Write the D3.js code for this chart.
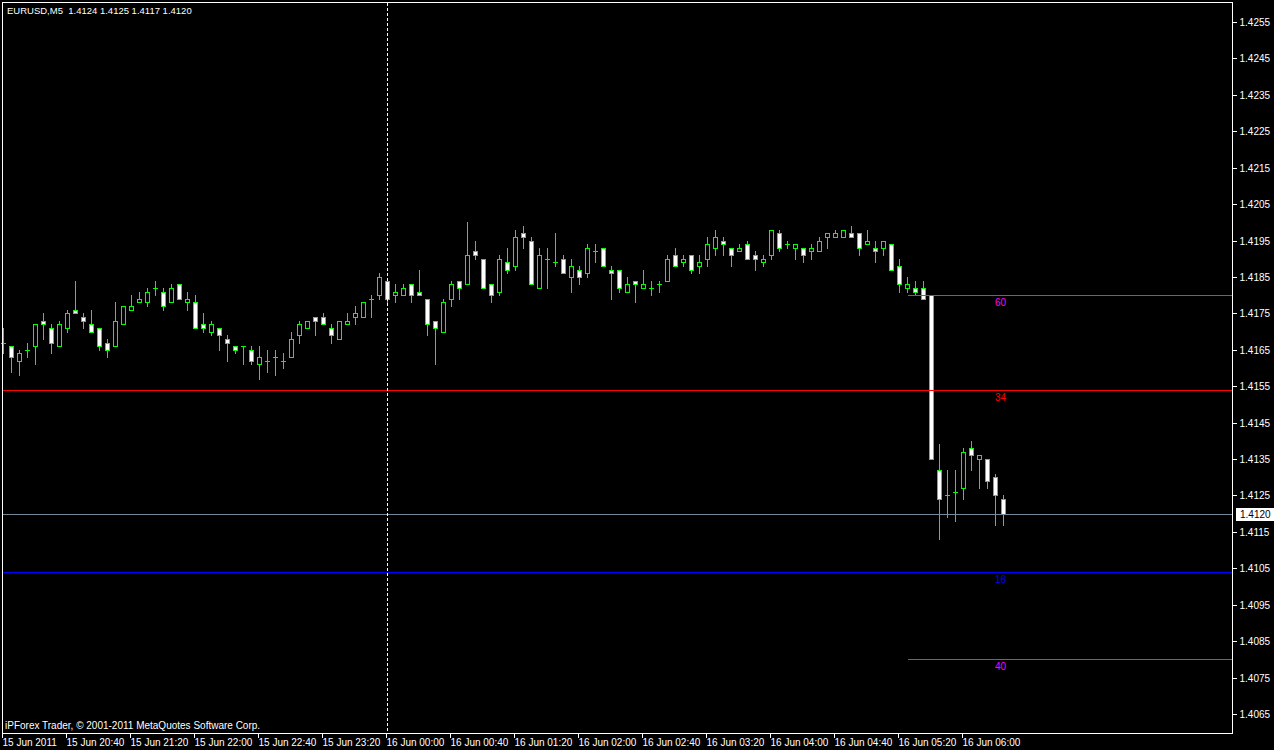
<!DOCTYPE html>
<html><head><meta charset="utf-8">
<script src="https://cdn.jsdelivr.net/npm/d3@7"></script>
<style>html,body{margin:0;padding:0;background:#000;overflow:hidden}</style>
</head><body><svg id="c" width="1274" height="750"></svg>
<script>
const titleText = "EURUSD,M5  1.4124 1.4125 1.4117 1.4120";
const copyrightText = "iPForex Trader, \u00a9 2001-2011 MetaQuotes Software Corp.";

const opens = [1.4167,1.4166,1.4162,1.4165,1.4166,1.4173,1.4171,1.4166,1.4171,1.4176,
1.4174,1.4172,1.4171,1.4167,1.4166,1.4172,1.4176,1.4178,1.4178,1.4182,
1.4181,1.4178,1.4183,1.4178,1.4178,1.4172,1.4170,1.4171,1.4168,1.4166,
1.4166,1.4165,1.4161,1.4162,1.4163,1.4162,1.4163,1.4169,1.4171,1.4174,
1.4174,1.4171,1.4168,1.4172,1.4174,1.4174,1.4179,1.4180,1.4184,1.4180,
1.4180,1.4183,1.4181,1.4179,1.4173,1.4170,1.4179,1.4184,1.4183,1.4192,
1.4190,1.4183,1.4181,1.4189,1.4188,1.4197,1.4195,1.4182,1.4190,1.4189,
1.4190,1.4185,1.4187,1.4186,1.4192,1.4193,1.4187,1.4187,1.4181,1.4184,
1.4182,1.4182,1.4183,1.4184,1.4191,1.4189,1.4191,1.4188,1.4190,1.4193,
1.4195,1.4193,1.4192,1.4194,1.4191,1.4189,1.4191,1.4197,1.4194,1.4193,
1.4193,1.4192,1.4192,1.4196,1.4196,1.4196,1.4197,1.4197,1.4194,1.4193,
1.4193,1.4194,1.4188,1.4182,1.4182,1.4182,1.4180,1.4132,1.4125,1.4126,
1.4127,1.4138,1.4135,1.4135,1.4130,1.4124];
const highs = [1.4171,1.4166,1.4165,1.4167,1.4172,1.4175,1.4172,1.4173,1.4176,1.4184,
1.4175,1.4176,1.4171,1.4168,1.4178,1.4177,1.4180,1.4181,1.4182,1.4184,
1.4182,1.4183,1.4183,1.4181,1.4180,1.4175,1.4173,1.4171,1.4169,1.4166,
1.4166,1.4166,1.4166,1.4165,1.4165,1.4164,1.4170,1.4173,1.4173,1.4174,
1.4175,1.4172,1.4173,1.4175,1.4177,1.4178,1.4180,1.4186,1.4184,1.4183,
1.4183,1.4183,1.4187,1.4179,1.4173,1.4179,1.4184,1.4184,1.4200,1.4195,
1.4190,1.4183,1.4191,1.4193,1.4198,1.4199,1.4196,1.4193,1.4193,1.4197,
1.4191,1.4190,1.4188,1.4194,1.4194,1.4193,1.4188,1.4187,1.4185,1.4184,
1.4187,1.4184,1.4184,1.4191,1.4193,1.4191,1.4191,1.4191,1.4196,1.4198,
1.4196,1.4193,1.4194,1.4195,1.4192,1.4191,1.4198,1.4198,1.4195,1.4194,
1.4193,1.4194,1.4196,1.4197,1.4198,1.4198,1.4199,1.4197,1.4198,1.4195,
1.4195,1.4194,1.4190,1.4185,1.4184,1.4184,1.4180,1.4139,1.4132,1.4132,
1.4138,1.4140,1.4136,1.4135,1.4131,1.4125];
const lows = [1.4164,1.4159,1.4158,1.4163,1.4161,1.4168,1.4164,1.4166,1.4170,1.4175,
1.4171,1.4170,1.4165,1.4163,1.4166,1.4172,1.4176,1.4178,1.4177,1.4180,
1.4176,1.4178,1.4179,1.4176,1.4171,1.4170,1.4169,1.4165,1.4162,1.4164,
1.4161,1.4161,1.4157,1.4159,1.4158,1.4160,1.4163,1.4167,1.4171,1.4169,
1.4172,1.4167,1.4168,1.4172,1.4172,1.4174,1.4174,1.4179,1.4178,1.4178,
1.4180,1.4178,1.4180,1.4169,1.4161,1.4170,1.4177,1.4179,1.4183,1.4190,
1.4182,1.4178,1.4180,1.4186,1.4187,1.4193,1.4183,1.4182,1.4182,1.4188,
1.4186,1.4181,1.4183,1.4185,1.4189,1.4188,1.4179,1.4181,1.4181,1.4178,
1.4182,1.4180,1.4181,1.4184,1.4188,1.4188,1.4186,1.4186,1.4188,1.4191,
1.4191,1.4188,1.4192,1.4190,1.4187,1.4188,1.4190,1.4192,1.4193,1.4190,
1.4189,1.4190,1.4192,1.4193,1.4196,1.4196,1.4196,1.4191,1.4194,1.4189,
1.4191,1.4187,1.4181,1.4181,1.4180,1.4179,1.4135,1.4113,1.4119,1.4118,
1.4124,1.4132,1.4127,1.4127,1.4117,1.4117];
const closes = [1.4167,1.4163,1.4164,1.4165,1.4172,1.4172,1.4167,1.4172,1.4175,1.4175,
1.4173,1.4170,1.4166,1.4165,1.4173,1.4177,1.4177,1.4179,1.4181,1.4182,
1.4177,1.4182,1.4179,1.4179,1.4171,1.4171,1.4172,1.4169,1.4167,1.4165,
1.4166,1.4162,1.4163,1.4162,1.4163,1.4162,1.4168,1.4172,1.4173,1.4173,
1.4172,1.4169,1.4173,1.4173,1.4175,1.4178,1.4179,1.4185,1.4179,1.4181,
1.4182,1.4180,1.4180,1.4172,1.4171,1.4178,1.4183,1.4182,1.4191,1.4191,
1.4182,1.4180,1.4190,1.4187,1.4196,1.4196,1.4183,1.4191,1.4190,1.4189,
1.4186,1.4188,1.4185,1.4193,1.4192,1.4188,1.4186,1.4182,1.4183,1.4183,
1.4183,1.4182,1.4183,1.4190,1.4188,1.4190,1.4187,1.4189,1.4194,1.4196,
1.4194,1.4191,1.4193,1.4190,1.4190,1.4190,1.4198,1.4193,1.4194,1.4194,
1.4191,1.4193,1.4195,1.4197,1.4197,1.4198,1.4196,1.4193,1.4195,1.4192,
1.4195,1.4187,1.4183,1.4183,1.4181,1.4179,1.4135,1.4124,1.4125,1.4126,
1.4137,1.4136,1.4136,1.4129,1.4125,1.4120];

const priceTicks = [1.4065,1.4075,1.4085,1.4095,1.4105,1.4115,1.4125,1.4135,1.4145,1.4155,
1.4165,1.4175,1.4185,1.4195,1.4205,1.4215,1.4225,1.4235,1.4245,1.4255];
const timeTickBars = [0,8,16,24,32,40,48,56,64,72,80,88,96,104,112,120];
const timeTickLabels = ["15 Jun 2011","15 Jun 20:40","15 Jun 21:20","15 Jun 22:00","15 Jun 22:40",
"15 Jun 23:20","16 Jun 00:00","16 Jun 00:40","16 Jun 01:20","16 Jun 02:00","16 Jun 02:40",
"16 Jun 03:20","16 Jun 04:00","16 Jun 04:40","16 Jun 05:20","16 Jun 06:00"];

const levelPrices = [1.4180, 1.4154, 1.4104, 1.4080];
const levelNames = ["60", "34", "16", "40"];
const levelColors = ["#ff00ff", "#ff0000", "#0000ff", "#ff00ff"];
const levelTextColors = ["#ff00ff", "#ff0000", "#0000ff", "#ff00ff"];
const levelStartBar = [113, null, null, 113];
const labelBar = 124;
const bidPrice = 1.4120;
const separatorBar = 48;

const W = 1274, H = 750;
const plot = {left: 2.5, top: 2.5, right: 1232.5, bottom: 733.5};
const FONT = "'Liberation Sans', Arial, sans-serif";

const svg = d3.select("#c").attr("shape-rendering", "crispEdges");
svg.append("rect").attr("width", W).attr("height", H).attr("fill", "#000");

const x = d3.scaleLinear().domain([0, 125]).range([3.5, 1003.5]);
const y = d3.scaleLinear().domain([1.4065, 1.4255]).range([714, 22]);
const py = v => Math.round(y(v)) + 0.5;

const bars = d3.range(opens.length).map(i => ({i, o: opens[i], h: highs[i], l: lows[i], c: closes[i]}));

const gC = svg.append("g");
gC.selectAll("line.w").data(bars).join("line")
  .attr("x1", d => x(d.i)).attr("x2", d => x(d.i))
  .attr("y1", d => py(d.h) - 0.5).attr("y2", d => py(d.l) + 0.5)
  .attr("stroke", "#00ff00").attr("stroke-width", 1);
bars.forEach(d => {
  const yt = py(Math.max(d.o, d.c)), yb = py(Math.min(d.o, d.c));
  if (yb - yt < 1) {
    gC.append("line").attr("x1", x(d.i) - 2.5).attr("x2", x(d.i) + 2.5)
      .attr("y1", yt).attr("y2", yt).attr("stroke", "#00ff00");
  } else {
    gC.append("rect").attr("x", x(d.i) - 2).attr("y", yt)
      .attr("width", 4).attr("height", yb - yt)
      .attr("fill", d.c < d.o ? "#ffffff" : "#000000")
      .attr("stroke", "#00ff00").attr("stroke-width", 1);
  }
});

levelPrices.forEach((p, k) => {
  const x0 = levelStartBar[k] === null ? 3 : x(levelStartBar[k]);
  svg.append("line").attr("x1", x0).attr("x2", plot.right)
    .attr("y1", py(p)).attr("y2", py(p))
    .attr("stroke", levelColors[k]).attr("stroke-width", 1);
  svg.append("text").attr("x", x(labelBar) - 0.5).attr("y", py(p) + 10)
    .attr("fill", levelTextColors[k]).attr("font-family", FONT).attr("font-size", 10)
    .text(levelNames[k]);
});

svg.append("line").attr("x1", 3).attr("x2", plot.right)
  .attr("y1", py(bidPrice)).attr("y2", py(bidPrice))
  .attr("stroke", "#778899").attr("stroke-width", 1);

svg.append("line").attr("x1", x(separatorBar)).attr("x2", x(separatorBar))
  .attr("y1", plot.top).attr("y2", plot.bottom)
  .attr("stroke", "#ffffff").attr("stroke-dasharray", "3,2");

svg.append("rect").attr("x", plot.left).attr("y", plot.top)
  .attr("width", plot.right - plot.left).attr("height", plot.bottom - plot.top)
  .attr("fill", "none").attr("stroke", "#ffffff");

const ay = svg.append("g").attr("transform", `translate(${plot.right},0)`)
  .call(d3.axisRight(y).tickValues(priceTicks).tickSize(4).tickPadding(3).tickFormat(d3.format(".4f")));
ay.select(".domain").remove();
ay.selectAll(".tick").attr("transform", d => `translate(0,${py(d)})`);
ay.selectAll("line").attr("stroke", "#fff");
ay.selectAll("text").attr("fill", "#fff").attr("font-family", FONT).attr("font-size", 10);

svg.append("rect").attr("x", 1236).attr("y", py(bidPrice) - 7).attr("width", 38).attr("height", 13).attr("fill", "#fff");
svg.append("text").attr("x", 1240).attr("y", py(bidPrice) + 3.5).attr("fill", "#000")
  .attr("font-family", FONT).attr("font-size", 10).text(d3.format(".4f")(bidPrice));

const ax = svg.append("g").attr("transform", `translate(0,${plot.bottom})`)
  .call(d3.axisBottom(x).tickValues(timeTickBars).tickSize(4).tickFormat((d, i) => timeTickLabels[i]));
ax.select(".domain").remove();
ax.selectAll(".tick").attr("transform", d => `translate(${x(d) - 1},0)`);
ax.selectAll("line").attr("stroke", "#fff");
ax.selectAll("text").attr("fill", "#fff").attr("font-family", FONT).attr("font-size", 10)
  .attr("text-anchor", "start").attr("x", 0).attr("dy", null).attr("y", 12.5);

svg.append("text").attr("x", 7).attr("y", 14).attr("fill", "#fff")
  .attr("font-family", FONT).attr("font-size", 9.5).style("white-space", "pre").text(titleText);
svg.append("text").attr("x", 5).attr("y", 729).attr("fill", "#fff")
  .attr("font-family", FONT).attr("font-size", 10).text(copyrightText);
</script></body></html>
